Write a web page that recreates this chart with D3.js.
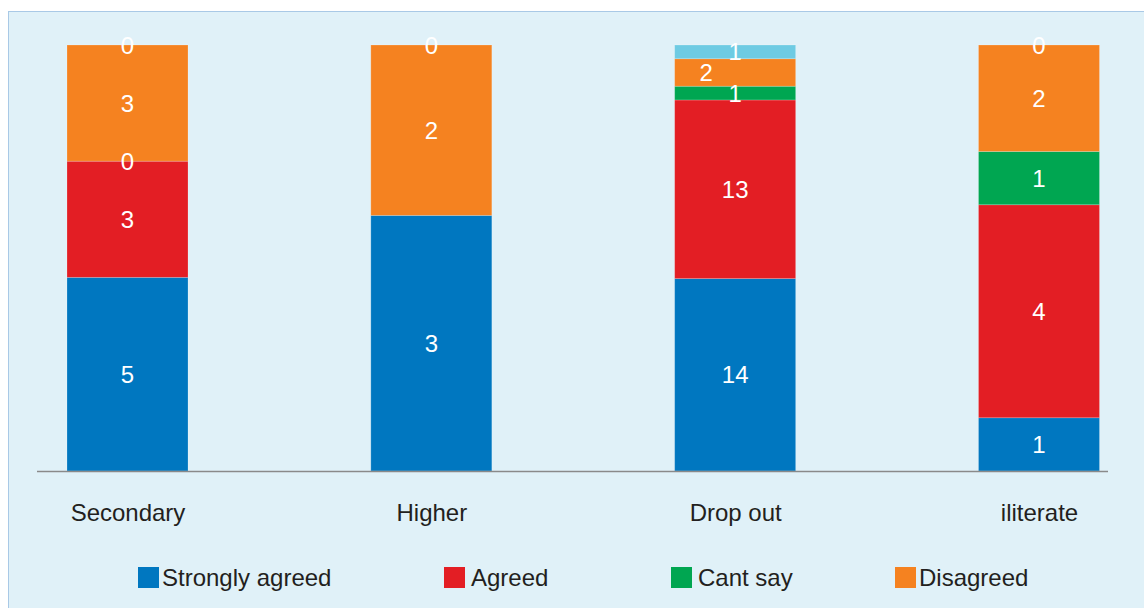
<!DOCTYPE html>
<html>
<head>
<meta charset="utf-8">
<script src="https://cdn.jsdelivr.net/npm/d3@7"></script>
<style>
  html, body { margin: 0; padding: 0; background: #ffffff; }
  svg { display: block; }
  text { font-family: "Liberation Sans", Arial, Helvetica, sans-serif; }
</style>
</head>
<body>
<svg id="chart" width="1144" height="608"></svg>
<script>
// Education level groups
const categories = ["Secondary", "Higher", "Drop out", "iliterate"];

// Responses per group, stacked bottom to top
const stronglyAgreed    = [5, 3, 14, 1];
const agreed            = [3, 0, 13, 4];
const cantSay           = [0, 0, 1, 1];
const disagreed         = [3, 2, 2, 2];
const stronglyDisagreed = [0, 0, 1, 0];

const seriesNames = ["Strongly agreed", "Agreed", "Cant say", "Disagreed", "Strongly disagreed"];
const seriesValues = [stronglyAgreed, agreed, cantSay, disagreed, stronglyDisagreed];
const legendNames = ["Strongly agreed", "Agreed", "Cant say", "Disagreed"];

// Segment fills, in series order
const colors = ["#0077c0", "#e31e24", "#00a651", "#f58220", "#6ecbe3"];

const svg = d3.select("#chart");
const W = 1144, H = 608;

// Panel background
svg.append("rect")
  .attr("x", 8.5).attr("y", 11.5)
  .attr("width", W).attr("height", H)
  .attr("fill", "#e0f1f8")
  .attr("stroke", "#a9c9e6")
  .attr("stroke-width", 1);

// Build 100% stacked rows
const rows = categories.map((c, i) => {
  const r = { category: c };
  seriesNames.forEach((s, j) => { r[s] = seriesValues[j][i]; });
  return r;
});

const stack = d3.stack()
  .keys(seriesNames)
  .offset(d3.stackOffsetExpand);
const stacked = stack(rows);

const x = d3.scalePoint()
  .domain(categories)
  .range([127.5, 1039]);
const barWidth = 121;

const y = d3.scaleLinear()
  .domain([0, 1])
  .range([471, 45]);

const color = d3.scaleOrdinal().domain(seriesNames).range(colors);

// Stacked segments
const layers = svg.append("g").selectAll("g")
  .data(stacked)
  .join("g")
  .attr("fill", d => color(d.key));

layers.selectAll("rect")
  .data(d => d.map(p => ({ key: d.key, p })))
  .join("rect")
  .attr("x", d => x(d.p.data.category) - barWidth / 2)
  .attr("y", d => y(d.p[1]))
  .attr("width", barWidth)
  .attr("height", d => Math.max(0, y(d.p[0]) - y(d.p[1])))
  .attr("stroke", "rgba(255,255,255,0.25)")
  .attr("stroke-width", 0.8);

// Category axis
const xAxis = svg.append("g")
  .attr("transform", "translate(0,471)")
  .call(d3.axisBottom(x).tickSize(0).tickPadding(0));
xAxis.select(".domain")
  .attr("d", "M37,0.5H1108")
  .attr("stroke", "#8a8a8a")
  .attr("stroke-width", 1.5);
xAxis.selectAll(".tick text")
  .attr("y", 50)
  .attr("dy", 0)
  .attr("font-size", 24)
  .attr("fill", "#231f20")
  .style("font-family", "'Liberation Sans', Arial, sans-serif");

// Value labels, centred in each segment
const labelData = [];
stacked.forEach(layer => {
  layer.forEach(p => {
    const v = p.data[layer.key];
    // The empty "Agreed"/"Cant say" pair in the "Higher" group carries no label
    if (p.data.category === "Higher" && (layer.key === "Agreed" || layer.key === "Cant say")) return;
    if (layer.key === "Cant say" && p.data.category !== "Secondary" && v === 0) return;
    labelData.push({ key: layer.key, category: p.data.category, v, mid: (p[0] + p[1]) / 2 });
  });
});

svg.append("g").selectAll("text")
  .data(labelData)
  .join("text")
  .attr("x", d => x(d.category) + (d.category === "Drop out" && d.key === "Disagreed" ? -29 : 0))
  .attr("y", d => y(d.mid) + 8.6)
  .attr("text-anchor", "middle")
  .attr("font-size", 24)
  .attr("fill", "#ffffff")
  .text(d => d.v);

// Legend
const legendX = [138, 444, 671, 895];
const legend = svg.append("g").selectAll("g")
  .data(legendNames)
  .join("g")
  .attr("transform", (d, i) => `translate(${legendX[i]},567)`);
legend.append("rect")
  .attr("width", 21).attr("height", 21)
  .attr("fill", d => color(d));
legend.append("text")
  .attr("x", d => d === "Strongly agreed" || d === "Disagreed" ? 24 : 27)
  .attr("y", 19)
  .attr("font-size", 24)
  .attr("fill", "#231f20")
  .text(d => d);
</script>
</body>
</html>
